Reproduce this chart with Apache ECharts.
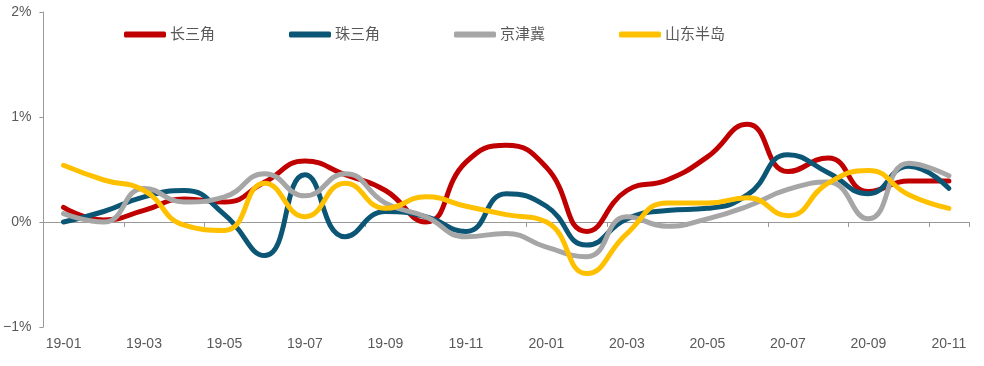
<!DOCTYPE html>
<html><head><meta charset="utf-8">
<script src="https://cdn.jsdelivr.net/npm/echarts@6/dist/echarts.min.js"></script>
<style>html,body{margin:0;padding:0;background:#fff}#c{width:984px;height:366px}</style>
</head><body><div id="c"></div>
<script>
const categories = ['19-01','19-02','19-03','19-04','19-05','19-06','19-07','19-08','19-09','19-10','19-11','19-12',
  '20-01','20-02','20-03','20-04','20-05','20-06','20-07','20-08','20-09','20-10','20-11'];
const seriesNames = ['长三角','珠三角','京津冀','山东半岛'];
const yrd = [0.14,0.02,0.11,0.22,0.19,0.38,0.58,0.45,0.30,0.00,0.57,0.73,0.52,-0.09,0.30,0.40,0.62,0.93,0.48,0.61,0.29,0.39,0.39];
const prd = [0.00,0.10,0.24,0.30,0.07,-0.32,0.45,-0.14,0.10,0.05,-0.09,0.27,0.15,-0.22,0.03,0.11,0.13,0.26,0.64,0.47,0.27,0.53,0.32];
const bth = [0.08,0.00,0.32,0.19,0.24,0.46,0.25,0.46,0.18,0.05,-0.14,-0.11,-0.24,-0.33,0.05,-0.04,0.03,0.15,0.31,0.38,0.03,0.56,0.44];
const sdp = [0.54,0.40,0.30,-0.03,-0.08,0.37,0.05,0.37,0.13,0.24,0.15,0.07,0.00,-0.49,-0.11,0.18,0.18,0.23,0.06,0.37,0.49,0.26,0.13];
const yTicks = [-1,0,1,2];
const colors = ['#C00000','#0B5575','#A6A6A6','#FFC000'];
const font = "'Liberation Sans','Noto Sans CJK SC',sans-serif";

const chart = echarts.init(document.getElementById('c'));
const dataSets = [yrd, prd, bth, sdp];
chart.setOption({
  animation: false,
  color: colors,
  grid: {left: 43, right: 15, top: 12, bottom: 39},
  legend: {
    left: 119, top: 22, itemGap: 74, itemWidth: 42, itemHeight: 6, icon: 'roundRect',
    textStyle: {color: '#595959', fontSize: 15, fontFamily: font, padding: [0,0,0,-1]},
    data: seriesNames
  },
  xAxis: [{
    type: 'category', data: categories, boundaryGap: true, position: 'bottom',
    axisLine: {show: false, onZero: false}, axisTick: {show: false},
    axisLabel: {interval: 1, color: '#595959', fontSize: 14, fontFamily: font, margin: 10}
  },{
    type: 'category', data: categories, boundaryGap: true, position: 'bottom',
    axisLine: {show: true, onZero: true, lineStyle: {color: '#999', width: 1}},
    axisTick: {show: true, interval: 1, length: 5, lineStyle: {color: '#999'}},
    axisLabel: {show: false}
  }],
  yAxis: {
    type: 'value', min: yTicks[0], max: yTicks[yTicks.length-1], interval: 1,
    axisLine: {show: true, lineStyle: {color: '#999'}},
    axisTick: {show: true, length: 4, lineStyle: {color: '#999'}},
    splitLine: {show: false},
    axisLabel: {formatter: v => String(v).replace('-', '\u2212') + '%', color: '#595959', fontSize: 14, fontFamily: font, margin: 12}
  },
  series: dataSets.map((d, i) => ({
    name: seriesNames[i], type: 'line', data: d, smooth: 0.5, symbol: 'none',
    lineStyle: {width: 5, color: colors[i], cap: 'round'}, z: 2 + i
  }))
});
</script></body></html>
